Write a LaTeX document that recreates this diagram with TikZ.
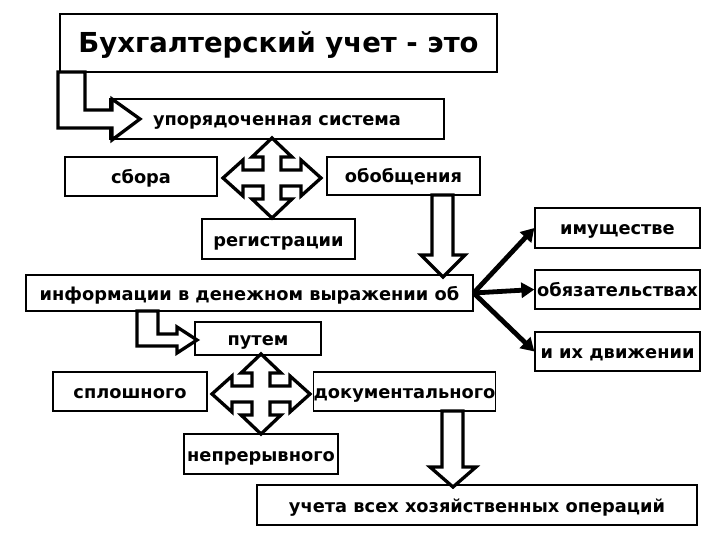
\documentclass[tikz,border=0pt]{standalone}
\usepackage{fontspec}
\setmainfont{DejaVu Sans}
\usetikzlibrary{arrows.meta}

\tikzset{
  box/.style={draw, line width=1.3pt, fill=white, inner sep=0pt,
    text height=15pt, text depth=1pt,
    font=\bfseries\fontsize{17.8}{20}\selectfont},
  hollow/.style={draw, line width=3.3pt, fill=white, line join=miter},
  link/.style={line width=4.8pt, -{Triangle[length=13pt,width=15pt]}}
}
% four-way hollow arrow centred at (#1,#2)
\newcommand{\fourway}[2]{%
  \draw[hollow, shift={(#1,#2)}]
    (0,-40) -- (20,-21) -- (9,-21) -- (9,-8) -- (29,-8) -- (29,-18) -- (49,0)
    -- (29,18) -- (29,8) -- (9,8) -- (9,21) -- (20,21) -- (0,40)
    -- (-20,21) -- (-9,21) -- (-9,8) -- (-29,8) -- (-29,18) -- (-49,0)
    -- (-29,-18) -- (-29,-8) -- (-9,-8) -- (-9,-21) -- (-20,-21) -- cycle;}

\begin{document}
\begin{tikzpicture}[x=1pt, y=-1pt]
\useasboundingbox (0,0) rectangle (720,540);

% boxes
\node[box, minimum width=437pt, minimum height=58pt, text height=20pt, text depth=0pt,
  font=\bfseries\fontsize{27.5}{30}\selectfont] (title) at (278.5,43) {Бухгалтерский учет - это};
\node[box, minimum width=334pt, minimum height=40pt] (sys) at (277,119) {упорядоченная система};
\node[box, minimum width=152pt, minimum height=39pt] (sbor) at (141,176.5) {сбора};
\node[box, minimum width=153pt, minimum height=38pt] (obob) at (403.5,176) {обобщения};
\node[box, minimum width=153pt, minimum height=40pt] (reg) at (278.5,239) {регистрации};
\node[box, minimum width=447pt, minimum height=36pt] (info) at (249.5,293) {информации в денежном выражении об};
\node[box, minimum width=165pt, minimum height=40pt] (imu) at (617.5,228) {имуществе};
\node[box, minimum width=165pt, minimum height=39pt] (obyaz) at (617.5,289.5) {обязательствах};
\node[box, minimum width=165pt, minimum height=39pt] (dvizh) at (617.5,351.5) {и их движении};
\node[box, minimum width=126pt, minimum height=33pt] (put) at (258,338.5) {путем};
\node[box, minimum width=154pt, minimum height=39pt] (splosh) at (130,391.5) {сплошного};
\node[box, minimum width=181pt, minimum height=39pt] (dok) at (404.5,391.5) {документального};
\node[box, minimum width=154pt, minimum height=40pt] (nepr) at (261,454) {непрерывного};
\node[box, minimum width=440pt, minimum height=40pt] (uch) at (477,505) {учета всех хозяйственных операций};

% bent hollow arrows
\draw[hollow] (58,72) -- (85,72) -- (85,110) -- (112,110) -- (112,99) -- (140,119)
  -- (112,140) -- (112,128) -- (58,128) -- cycle;
\draw[hollow] (137,311) -- (158,311) -- (158,334) -- (177,334) -- (177,327) -- (197,340)
  -- (177,353) -- (177,346) -- (137,346) -- cycle;

% four-way arrows
\fourway{272}{178}
\fourway{261}{394}

% down hollow arrows
\draw[hollow] (432,195) -- (453,195) -- (453,255) -- (465,255) -- (443,277)
  -- (421,255) -- (432,255) -- cycle;
\draw[hollow] (442,411) -- (463,411) -- (463,467) -- (476,467) -- (453,487)
  -- (430,467) -- (442,467) -- cycle;

% solid connectors
\draw[link] (info.east) -- (imu.west);
\draw[link] (info.east) -- (obyaz.west);
\draw[link] (info.east) -- (dvizh.west);
\end{tikzpicture}
\end{document}
